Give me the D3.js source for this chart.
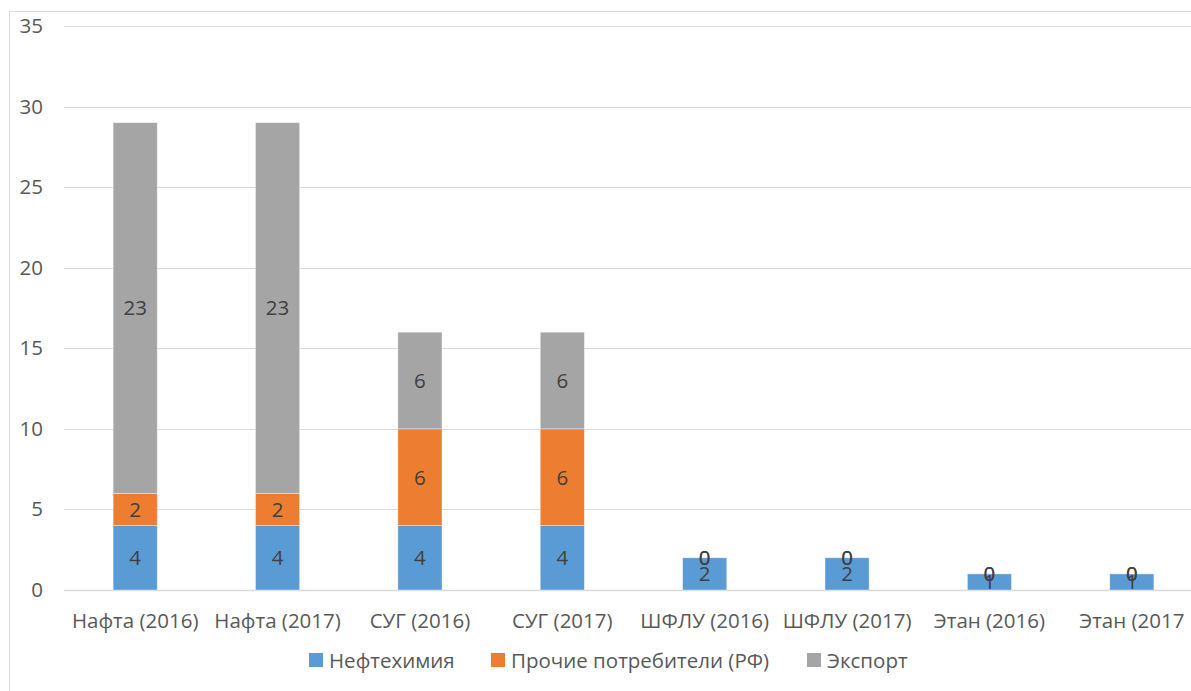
<!DOCTYPE html>
<html><head><meta charset="utf-8">
<script src="https://cdn.jsdelivr.net/npm/d3@7"></script>
<style>html,body{margin:0;padding:0;background:#fff;overflow:hidden}</style>
</head><body>
<svg id="chart" width="1191" height="691"></svg>
<script>
const categories = ["Нафта (2016)","Нафта (2017)","СУГ (2016)","СУГ (2017)","ШФЛУ (2016)","ШФЛУ (2017)","Этан (2016)","Этан (2017"];
const seriesNames = ["Нефтехимия","Прочие потребители (РФ)","Экспорт"];
const neftekhimiya = [4,4,4,4,2,2,1,1];
const prochie = [2,2,6,6,0,0,0,0];
const eksport = [23,23,6,6,0,0,0,0];
const yTicks = [0,5,10,15,20,25,30,35];
const colors = ["#5B9BD5","#ED7D31","#A5A5A5"];

const svg = d3.select("#chart");
const font = "'Open Sans', sans-serif";
const fs = "20.5px";

// outer chart border
svg.append("rect").attr("x",9.5).attr("y",11.5).attr("width",1300).attr("height",800)
  .attr("fill","none").attr("stroke","#D9D9D9").attr("stroke-width",1);

const x = d3.scaleBand().domain(categories).range([64,1203]).paddingInner(0.69).paddingOuter(0.345);
const y = d3.scaleLinear().domain([0,35]).range([590,26]);

// gridlines
svg.append("g").selectAll("line").data(yTicks).join("line")
  .attr("x1",64).attr("x2",1203)
  .attr("y1",d=>Math.round(y(d))+0.5).attr("y2",d=>Math.round(y(d))+0.5)
  .attr("stroke","#D9D9D9").attr("stroke-width",d=>d===0?1.5:1);

// y axis labels
const yAxis = d3.axisLeft(y).tickValues(yTicks).tickSize(0).tickPadding(0);
const ya = svg.append("g").attr("transform","translate(43,0)").call(yAxis);
ya.select(".domain").remove();
ya.selectAll("text").attr("font-family",font).attr("font-size",fs).attr("fill","#595959");

// x axis labels
const xAxis = d3.axisBottom(x).tickSize(0).tickPadding(0);
const xa = svg.append("g").attr("transform","translate(0,621)").call(xAxis);
xa.select(".domain").remove();
xa.selectAll("text").attr("font-family",font).attr("font-size",fs).attr("fill","#595959").attr("dy","0.36em");

// stack
const rows = categories.map((c,i)=>({cat:c, s0:neftekhimiya[i], s1:prochie[i], s2:eksport[i]}));
const stack = d3.stack().keys(["s0","s1","s2"]);
const stacked = stack(rows);

const g = svg.append("g");
stacked.forEach((layer,li)=>{
  g.append("g").selectAll("rect").data(layer).join("rect")
    .attr("x",d=>x(d.data.cat)).attr("width",x.bandwidth())
    .attr("y",d=>y(d[1])).attr("height",d=>y(d[0])-y(d[1]))
    .attr("fill",colors[li]).attr("stroke","#ffffff").attr("stroke-opacity",0.5).attr("stroke-width",0.75);
});
stacked.forEach((layer,li)=>{
  g.append("g").selectAll("text").data(layer).join("text")
    .attr("x",d=>x(d.data.cat)+x.bandwidth()/2)
    .attr("y",d=>y((d[0]+d[1])/2))
    .attr("dy","0.36em").attr("text-anchor","middle")
    .attr("font-family",font).attr("font-size",fs).attr("fill","#404040")
    .text(d=>d[1]-d[0]);
});

// legend
const legendX = [309,491,807];
const lg = svg.append("g");
seriesNames.forEach((n,i)=>{
  lg.append("rect").attr("x",legendX[i]).attr("y",653).attr("width",14).attr("height",14).attr("fill",colors[i]);
  lg.append("text").attr("x",legendX[i]+20).attr("y",661).attr("dy","0.36em")
    .attr("font-family",font).attr("font-size",fs).attr("fill","#595959").text(n);
});
</script>
</body></html>
